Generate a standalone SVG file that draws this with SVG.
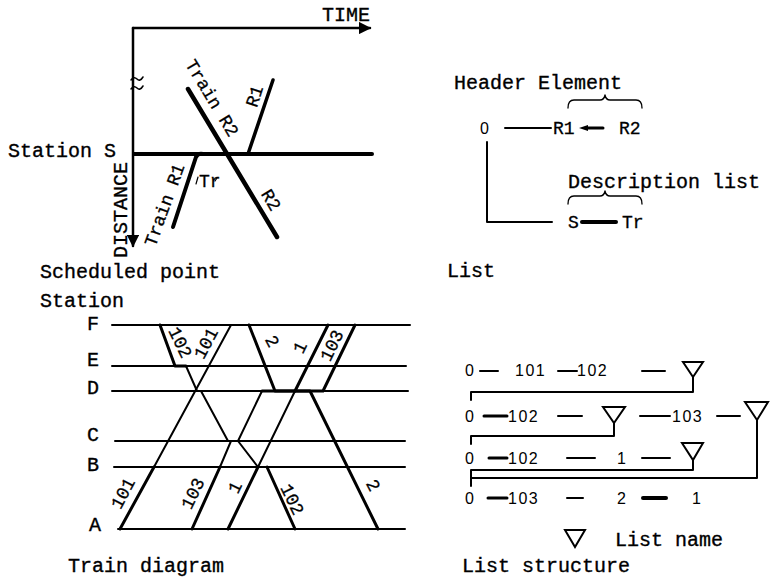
<svg xmlns="http://www.w3.org/2000/svg" width="775" height="579" viewBox="0 0 775 579">
<defs>
<style>
.cm{font-family:"Liberation Mono","Courier New",monospace;font-size:20px;fill:#000;stroke:#000;stroke-width:0.35}
.cs{font-family:"Liberation Mono","Courier New",monospace;font-size:18px;fill:#000;stroke:#000;stroke-width:0.3}
.sn{font-family:"Liberation Sans",Arial,sans-serif;font-size:16px;fill:#000;letter-spacing:1.5px}
.ln{stroke:#000;fill:none;stroke-linecap:round;stroke-linejoin:round}
.t2{stroke-width:2}
.t3{stroke-width:3}
.t4{stroke-width:4}
.tri{fill:#fff;stroke:#000;stroke-width:2;stroke-linejoin:miter}
</style>
<marker id="ah" viewBox="0 0 10 10" refX="9" refY="5" markerWidth="5" markerHeight="5" orient="auto" markerUnits="strokeWidth">
<path d="M0,0 L10,5 L0,10 z" fill="#000"/>
</marker>
</defs>
<rect width="775" height="579" fill="#fff"/>

<!-- Panel 1: scheduled point -->
<g id="panel-scheduled">
  <g id="axes">
    <path class="ln" d="M133,28 H370" stroke-width="2.5" marker-end="url(#ah)"/>
    <path class="ln" d="M133,28 V246" stroke-width="2.5" marker-end="url(#ah)"/>
    <path class="ln" stroke-width="1.5" d="M131,80 q3,-4 6,-1 t6,-2"/>
    <path class="ln" stroke-width="1.5" d="M131,89 q3,-4 6,-1 t6,-2"/>
    <text class="cm" x="322" y="21">TIME</text>
    <text class="cm" transform="translate(127,258) rotate(-90)">DISTANCE</text>
  </g>
  <g id="station-s">
    <path class="ln t4" d="M134,154 H372"/>
    <text class="cm" x="8" y="157">Station S</text>
  </g>
  <g id="train-r2">
    <path class="ln" stroke-width="4.5" d="M188,89 L277,237"/>
    <text class="cs" text-anchor="middle" transform="translate(207,101) rotate(59)">Train R2</text>
    <text class="cs" text-anchor="middle" transform="translate(266,203) rotate(59)">R2</text>
  </g>
  <g id="train-r1">
    <path class="ln t4" d="M173,227 L196,157 Q198,153 203,154"/>
    <path class="ln" stroke-width="3.5" d="M248,154 L273,80"/>
    <text class="cs" text-anchor="middle" transform="translate(170,207) rotate(-70)">Train R1</text>
    <text class="cs" text-anchor="middle" transform="translate(260,98) rotate(-72)">R1</text>
  </g>
  <g id="dwell-tr">
    <text class="cs" x="199" y="187" font-size="15">Tr</text>
    <path class="ln" stroke-width="1.2" d="M198,177 L196,184"/>
    <path class="ln" stroke-width="1.2" d="M215,181 L217,178"/>
  </g>
  <text class="cm" x="40" y="278">Scheduled point</text>
</g>

<!-- Panel 2: list -->
<g id="panel-list">
  <g id="header-element">
    <text class="cm" x="454" y="89">Header Element</text>
    <path class="ln" stroke-width="1.3" d="M568,108 Q568,100 574,100 H600 Q604,100 605,95 Q606,100 610,100 H636 Q642,100 642,108"/>
  </g>
  <g id="node-0"><text class="sn" x="480" y="134" font-size="15">0</text></g>
  <g id="node-r1"><text class="cs" x="553" y="134">R1</text></g>
  <g id="node-r2"><text class="cs" x="619" y="134">R2</text></g>
  <g id="node-s"><text class="cs" x="568" y="228">S</text></g>
  <g id="node-tr"><text class="cs" x="622" y="228">Tr</text></g>
  <g id="description-list">
    <text class="cm" x="568" y="188">Description list</text>
    <path class="ln" stroke-width="1.3" d="M568,204 Q568,196 574,196 H600 Q604,196 605,191 Q606,196 610,196 H636 Q642,196 642,204"/>
  </g>
  <g id="list-connectors">
    <path class="ln t2" d="M505,128 H551"/>
    <path class="ln t3" d="M586,128 H603"/>
    <path d="M579,128 L588,125 L588,131 z" fill="#000"/>
    <path class="ln t2" d="M487,142 V222 H552"/>
    <path class="ln t4" d="M582,222 H616" stroke-linecap="butt"/>
  </g>
  <text class="cm" x="447" y="277">List</text>
</g>

<!-- Panel 3: train diagram -->
<g id="panel-train">
  <text class="cm" x="40" y="307">Station</text>
  <g id="stations">
    <path class="ln t2" d="M112,325 H410"/>
    <path class="ln t2" d="M112,366 H406"/>
    <path class="ln t2" d="M112,391 H408"/>
    <path class="ln t2" d="M115,441 H405"/>
    <path class="ln t2" d="M114,467 H405"/>
    <path class="ln t2" d="M118,529 H405"/>
    <text class="cm" x="87" y="330">F</text>
    <text class="cm" x="87" y="366">E</text>
    <text class="cm" x="87" y="394">D</text>
    <text class="cm" x="87" y="441">C</text>
    <text class="cm" x="87" y="471">B</text>
    <text class="cm" x="89" y="531">A</text>
  </g>
  <g id="train-101">
    <path class="ln t3" d="M120,529 L154,467"/>
    <path class="ln t2" d="M154,467 L231,325"/>
    <text class="cs" text-anchor="middle" transform="translate(128,496) rotate(-62)">101</text>
    <text class="cs" text-anchor="middle" transform="translate(211,346) rotate(-62)">101</text>
  </g>
  <g id="train-102">
    <path class="ln t3" d="M160,325 L175,366 H186"/>
    <path class="ln t2" d="M186,366 L197,391 H201 L228,441 H238 L258,467 H267"/>
    <path class="ln t3" d="M267,467 L295,529"/>
    <text class="cs" text-anchor="middle" transform="translate(175,345) rotate(64)">102</text>
    <text class="cs" text-anchor="middle" transform="translate(287,502) rotate(64)">102</text>
  </g>
  <g id="train-103">
    <path class="ln t3" d="M192,529 L220,467"/>
    <path class="ln t2" d="M220,467 L231,441 H238 L262,391"/>
    <path class="ln t3" d="M262,391 H323 L355,325"/>
    <text class="cs" text-anchor="middle" transform="translate(198,496) rotate(-64)">103</text>
    <text class="cs" text-anchor="middle" transform="translate(337,348) rotate(-64)">103</text>
  </g>
  <g id="train-1">
    <path class="ln t3" d="M228,529 L258,467"/>
    <path class="ln t2" d="M258,467 L295,391"/>
    <path class="ln t3" d="M295,391 L328,325"/>
    <text class="cs" text-anchor="middle" transform="translate(240,490) rotate(-64)">1</text>
    <text class="cs" text-anchor="middle" transform="translate(305,350) rotate(-64)">1</text>
  </g>
  <g id="train-2">
    <path class="ln t3" d="M249,325 L275,391 H310 L378,529"/>
    <text class="cs" text-anchor="middle" transform="translate(267,344) rotate(62)">2</text>
    <text class="cs" text-anchor="middle" transform="translate(368,488) rotate(62)">2</text>
  </g>
  <text class="cm" x="68" y="572">Train diagram</text>
</g>

<!-- Panel 4: list structure -->
<g id="panel-list-structure">
  <g id="row-1">
    <text class="sn" x="465" y="376">0</text>
    <text class="sn" x="515" y="376">101</text>
    <text class="sn" x="577" y="376">102</text>
    <path class="tri" d="M683,362 H703 L693,377 z"/>
  </g>
  <g id="row-2">
    <text class="sn" x="465" y="422">0</text>
    <text class="sn" x="508" y="422">102</text>
    <path class="tri" d="M603,407 H625 L614,423 z"/>
    <text class="sn" x="672" y="422">103</text>
    <path class="tri" d="M745,402 H768 L757,420 z"/>
  </g>
  <g id="row-3">
    <text class="sn" x="465" y="464">0</text>
    <text class="sn" x="508" y="464">102</text>
    <text class="sn" x="617" y="464">1</text>
    <path class="tri" d="M682,443 H703 L693,460 z"/>
  </g>
  <g id="row-4">
    <text class="sn" x="465" y="504">0</text>
    <text class="sn" x="508" y="504">103</text>
    <text class="sn" x="617" y="504">2</text>
    <text class="sn" x="692" y="504">1</text>
  </g>
  <g id="structure-connectors">
    <path class="ln t2" d="M480,371 H498 M558,371 H577 M642,371 H665"/>
    <path class="ln t2" d="M693,377 V392 H471 V400"/>
    <path class="ln t3" d="M484,416 H507"/>
    <path class="ln t2" d="M558,416 H582 M640,416 H670 M717,416 H740"/>
    <path class="ln t2" d="M614,423 V436 H471 V444"/>
    <path class="ln t2" d="M757,420 V478 H471"/>
    <path class="ln t3" d="M489,458 H507"/>
    <path class="ln t2" d="M567,458 H595 M642,458 H670"/>
    <path class="ln t2" d="M693,460 V470 H471 V486"/>
    <path class="ln t3" d="M488,498 H507"/>
    <path class="ln t2" d="M567,498 H583"/>
    <path class="ln t4" d="M643,498 H666"/>
  </g>
  <g id="legend">
    <path class="tri" d="M565,530 H585 L575,547 z"/>
    <text class="cm" x="615" y="546">List name</text>
  </g>
  <text class="cm" x="462" y="572">List structure</text>
</g>
</svg>
